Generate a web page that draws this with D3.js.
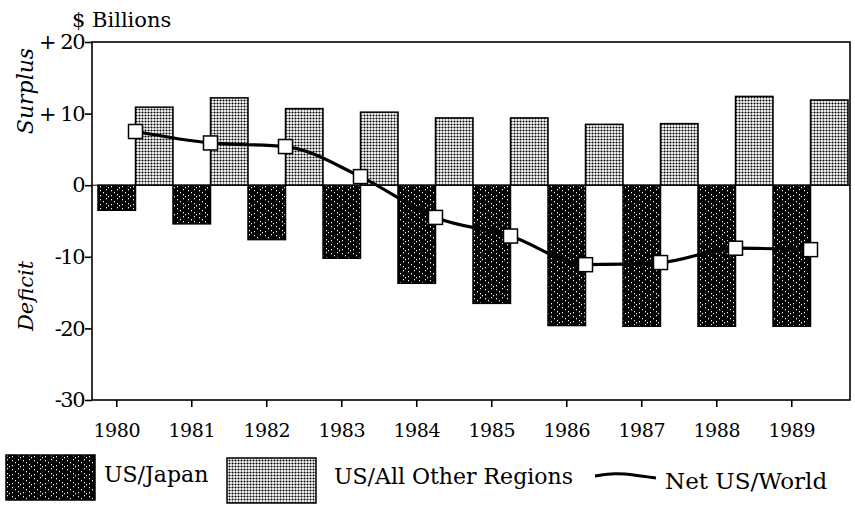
<!DOCTYPE html>
<html>
<head>
<meta charset="utf-8">
<script src="https://cdn.jsdelivr.net/npm/d3@7"></script>
<style>
  body { margin: 0; background: #fff; }
  svg text { font-family: "DejaVu Serif", serif; fill: #000; }
</style>
</head>
<body>
<div id="chart"></div>
<script>
// values in $ billions
const years = [1980, 1981, 1982, 1983, 1984, 1985, 1986, 1987, 1988, 1989];
const usJapan = [-3.5, -5.4, -7.6, -10.2, -13.7, -16.5, -19.6, -19.7, -19.7, -19.7];
const usOther = [10.9, 12.2, 10.7, 10.2, 9.4, 9.4, 8.5, 8.6, 12.4, 11.9];
const netWorld = [7.5, 5.9, 5.4, 1.2, -4.5, -7.1, -11.1, -10.8, -8.8, -9.0];
const yTicks = [20, 10, 0, -10, -20, -30];

const W = 855, H = 506;
const plotL = 92, plotR = 850, plotT = 42, plotB = 400;

const svg = d3.select("#chart").append("svg")
  .attr("width", W).attr("height", H);

// fill patterns
const defs = svg.append("defs");
const dots = defs.append("pattern").attr("id", "dots")
  .attr("width", 3).attr("height", 3).attr("patternUnits", "userSpaceOnUse");
dots.append("rect").attr("width", 3).attr("height", 3).attr("fill", "#fff");
dots.append("circle").attr("cx", 1.5).attr("cy", 1.5).attr("r", 1.05).attr("fill", "#000");

const dark = defs.append("pattern").attr("id", "dark")
  .attr("width", 11).attr("height", 9).attr("patternUnits", "userSpaceOnUse");
dark.append("rect").attr("width", 11).attr("height", 9).attr("fill", "#000");
[[1,1],[1,6],[4,3],[7,0],[7,5],[9,7]].forEach(p => {
  dark.append("rect").attr("x", p[0]).attr("y", p[1])
    .attr("width", 1).attr("height", 1.3).attr("fill", "#fff");
});

const x = d3.scaleBand().domain(years).range([98, 848]).paddingInner(0);
const sub = d3.scaleBand().domain(["japan", "other"]).range([0, x.bandwidth()]);
const y = d3.scaleLinear().domain([-30, 20]).range([plotB, plotT]);

// zero line
svg.append("line")
  .attr("x1", plotL).attr("x2", plotR)
  .attr("y1", y(0)).attr("y2", y(0))
  .attr("stroke", "#000").attr("stroke-width", 1);

// bars
svg.append("g").selectAll("rect")
  .data(years.map((yr, i) => ({ yr, v: usJapan[i] })))
  .join("rect")
  .attr("x", d => x(d.yr) + sub("japan"))
  .attr("width", sub.bandwidth())
  .attr("y", d => y(Math.max(0, d.v)))
  .attr("height", d => Math.abs(y(d.v) - y(0)))
  .attr("fill", "url(#dark)")
  .attr("stroke", "#000").attr("stroke-width", 1.5);

svg.append("g").selectAll("rect")
  .data(years.map((yr, i) => ({ yr, v: usOther[i] })))
  .join("rect")
  .attr("x", d => x(d.yr) + sub("other"))
  .attr("width", sub.bandwidth())
  .attr("y", d => y(Math.max(0, d.v)))
  .attr("height", d => Math.abs(y(d.v) - y(0)))
  .attr("fill", "url(#dots)")
  .attr("stroke", "#000").attr("stroke-width", 1.5);

// net line
const pts = years.map((yr, i) => [x(yr) + x.bandwidth() / 2, y(netWorld[i])]);
svg.append("path")
  .attr("d", d3.line().curve(d3.curveMonotoneX)(pts))
  .attr("fill", "none").attr("stroke", "#000").attr("stroke-width", 3.2);

svg.append("g").selectAll("rect")
  .data(pts)
  .join("rect")
  .attr("x", d => d[0] - 7).attr("y", d => d[1] - 7)
  .attr("width", 14).attr("height", 14)
  .attr("fill", "#fff").attr("stroke", "#000").attr("stroke-width", 1.5);

// frame
svg.append("rect")
  .attr("x", plotL).attr("y", plotT)
  .attr("width", plotR - plotL).attr("height", plotB - plotT)
  .attr("fill", "none").attr("stroke", "#000").attr("stroke-width", 1.6);

// y axis
const yAxis = svg.append("g")
  .attr("transform", `translate(${plotL},0)`)
  .call(d3.axisLeft(y).tickValues(yTicks).tickSize(7).tickSizeOuter(0)
    .tickFormat(d => d > 0 ? "+ " + d : String(d)));
yAxis.select(".domain").remove();
yAxis.selectAll("line").attr("stroke-width", 1.6);
yAxis.selectAll("text").attr("font-size", 21).attr("x", -8)
  .attr("font-family", "DejaVu Serif").attr("letter-spacing", -1.5);

// x axis, ticks under the US/Japan bars
const xAxis = svg.append("g")
  .attr("transform", `translate(${-x.bandwidth() / 4},${plotB})`)
  .call(d3.axisBottom(x).tickSize(7).tickSizeOuter(0));
xAxis.select(".domain").remove();
xAxis.selectAll("line").attr("stroke-width", 1.6);
xAxis.selectAll("text").attr("font-size", 19).attr("y", 37).attr("dy", null)
  .attr("font-family", "DejaVu Serif").attr("letter-spacing", -0.4);

// titles
svg.append("text").attr("x", 72).attr("y", 27)
  .attr("font-size", 21).text("$ Billions");
svg.append("text")
  .attr("transform", `translate(33,91) rotate(-90)`)
  .attr("text-anchor", "middle").attr("font-size", 22)
  .attr("font-style", "italic").text("Surplus");
svg.append("text")
  .attr("transform", `translate(33,296) rotate(-90)`)
  .attr("text-anchor", "middle").attr("font-size", 21)
  .attr("font-style", "italic").text("Deficit");

// legend
const lg = svg.append("g");
lg.append("rect").attr("x", 6).attr("y", 455).attr("width", 89).attr("height", 45)
  .attr("fill", "url(#dark)").attr("stroke", "#000").attr("stroke-width", 1.5);
lg.append("text").attr("x", 104).attr("y", 482).attr("font-size", 22).text("US/Japan");
lg.append("rect").attr("x", 227).attr("y", 458).attr("width", 89).attr("height", 45)
  .attr("fill", "url(#dots)").attr("stroke", "#000").attr("stroke-width", 1.5);
lg.append("text").attr("x", 334).attr("y", 484).attr("font-size", 22).text("US/All Other Regions");
lg.append("path")
  .attr("d", d3.line().curve(d3.curveBasis)([[595, 476], [615, 473], [635, 475], [656, 478]]))
  .attr("fill", "none").attr("stroke", "#000").attr("stroke-width", 3);
lg.append("text").attr("x", 665).attr("y", 489).attr("font-size", 23).text("Net US/World");
</script>
</body>
</html>
